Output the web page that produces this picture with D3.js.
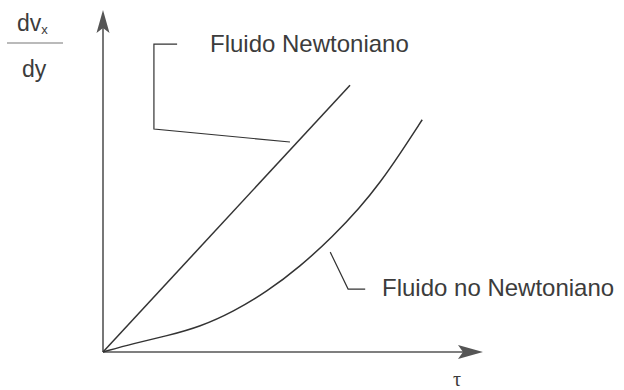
<!DOCTYPE html>
<html>
<head>
<meta charset="utf-8">
<script src="https://cdn.jsdelivr.net/npm/d3@7"></script>
<style>
  body { margin: 0; background: #fff; }
  svg { display: block; }
</style>
</head>
<body>
<svg id="chart" width="624" height="390"></svg>
<script>
// shear stress (tau) vs shear rate
let tauNewton = [0, 6.5];
let rateNewton = [0, 7.8];

let tauNonNewton = [0, 0.8, 1.68, 2.56, 3.43, 4.31, 5.18, 6.06, 6.76, 7.29, 7.82, 8.4];
let rateNonNewton = [0, 0.25, 0.47, 0.74, 1.18, 1.76, 2.49, 3.39, 4.22, 4.95, 5.8, 6.79];

// leader lines (data units)
let leaderNewtonX = [1.95, 1.34, 1.34, 4.92];
let leaderNewtonY = [9.0, 9.0, 6.52, 6.14];
let leaderNonX = [5.98, 6.45, 6.9];
let leaderNonY = [2.92, 1.84, 1.84];

let labels = ["Fluido Newtoniano", "Fluido no Newtoniano"];

let svg = d3.select("#chart");

let x = d3.scaleLinear().domain([0, 10]).range([103, 483]);
let y = d3.scaleLinear().domain([0, 10]).range([352, 10]);

let axisColor = "#555";
let lineColor = "#333";
let textColor = "#3c3c3c";

// axes
svg.append("line")
  .attr("x1", x(0)).attr("y1", y(0))
  .attr("x2", x(10) - 20).attr("y2", y(0))
  .attr("stroke", axisColor).attr("stroke-width", 1.6);
svg.append("line")
  .attr("x1", x(0)).attr("y1", y(0))
  .attr("x2", x(0)).attr("y2", y(10) + 18)
  .attr("stroke", axisColor).attr("stroke-width", 1.6);

// arrow heads
let xt = [x(10), y(0)];
svg.append("path")
  .attr("d", `M${xt[0]},${xt[1]} L${xt[0]-25},${xt[1]-7} L${xt[0]-20},${xt[1]} L${xt[0]-25},${xt[1]+7} Z`)
  .attr("fill", axisColor);
let yt = [x(0), y(10)];
svg.append("path")
  .attr("d", `M${yt[0]},${yt[1]} L${yt[0]-6.5},${yt[1]+23} L${yt[0]},${yt[1]+18} L${yt[0]+6.5},${yt[1]+23} Z`)
  .attr("fill", axisColor);

let line = d3.line()
  .x(d => x(d[0]))
  .y(d => y(d[1]));

// newtonian
svg.append("path")
  .datum(d3.zip(tauNewton, rateNewton))
  .attr("d", line)
  .attr("fill", "none")
  .attr("stroke", lineColor)
  .attr("stroke-width", 1.5);

// non newtonian
let curveLine = d3.line()
  .x(d => x(d[0]))
  .y(d => y(d[1]))
  .curve(d3.curveBasis);
svg.append("path")
  .datum(d3.zip(tauNonNewton, rateNonNewton))
  .attr("d", curveLine)
  .attr("fill", "none")
  .attr("stroke", lineColor)
  .attr("stroke-width", 1.5);

svg.append("path")
  .datum(d3.zip(leaderNewtonX, leaderNewtonY))
  .attr("d", line)
  .attr("fill", "none")
  .attr("stroke", lineColor)
  .attr("stroke-width", 1.2);

svg.append("path")
  .datum(d3.zip(leaderNonX, leaderNonY))
  .attr("d", line)
  .attr("fill", "none")
  .attr("stroke", lineColor)
  .attr("stroke-width", 1.2);

// labels
svg.append("text")
  .attr("x", 210).attr("y", 52)
  .attr("font-family", "Liberation Sans, Arial, sans-serif")
  .attr("font-size", 24)
  .attr("fill", textColor)
  .text(labels[0]);

svg.append("text")
  .attr("x", 382).attr("y", 296)
  .attr("font-family", "Liberation Sans, Arial, sans-serif")
  .attr("font-size", 24)
  .attr("fill", textColor)
  .text(labels[1]);

// y label: dv_x / dy
let yl = svg.append("g")
  .attr("font-family", "Liberation Sans, Arial, sans-serif")
  .attr("fill", textColor);
let numer = yl.append("text")
  .attr("x", 17).attr("y", 31)
  .attr("font-size", 23);
numer.append("tspan").text("dv");
numer.append("tspan").attr("font-size", 13).attr("dy", 3).text("x");
yl.append("line")
  .attr("x1", 7).attr("x2", 63)
  .attr("y1", 43).attr("y2", 43)
  .attr("stroke", "#777").attr("stroke-width", 1.2);
yl.append("text")
  .attr("x", 22).attr("y", 77)
  .attr("font-size", 23)
  .text("dy");

// x label
svg.append("text")
  .attr("x", 457).attr("y", 386)
  .attr("text-anchor", "middle")
  .attr("font-family", "Liberation Serif, serif")
  .attr("font-size", 20)
  .attr("fill", textColor)
  .text("τ");
</script>
</body>
</html>
